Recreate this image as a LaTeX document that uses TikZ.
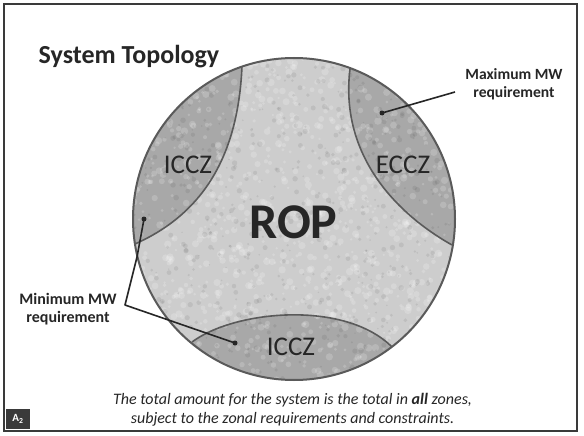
\documentclass[tikz,border=0pt]{standalone}
\usepackage{fontspec}
\setmainfont{Carlito}
\definecolor{ropgray}{HTML}{CDCDCD}
\definecolor{zonegray}{HTML}{A8A8A8}
\definecolor{edgegray}{HTML}{5A5A5A}
\definecolor{ink}{HTML}{262626}
\definecolor{framec}{HTML}{3A3A3A}
\tikzset{
  zone/.style={fill=zonegray},
  zoneedge/.style={draw=edgegray,line width=1.6pt},
  lbl/.style={text=ink,inner sep=0pt},
  dotn/.style={circle,fill=ink,inner sep=0pt,minimum size=5pt},
  lead/.style={draw=ink,line width=1.6pt},
}
\begin{document}
\begin{tikzpicture}[x=1pt,y=-1pt]
\useasboundingbox (0,0) rectangle (584,436);
\fill[white] (0,0) rectangle (584,436);
% frame
\draw[framec,line width=2pt] (4,4) rectangle (577,431);
% main circle
\coordinate (c) at (294,219);
\fill[ropgray] (c) circle[radius=161];
\begin{scope}
  \clip (c) circle[radius=161];
  % left ICCZ
  \fill[zone] (242,66) .. controls (238,160) and (200,215) .. (135,244)
     -- (110,250) -- (110,40) -- (244,40) -- cycle;
  % ECCZ
  \fill[zone] (350,69) .. controls (340,150) and (390,210) .. (452,245)
     -- (470,250) -- (470,40) -- (350,40) -- cycle;
  % bottom ICCZ
  \fill[zone] (192,342) .. controls (235,310) and (345,300) .. (392,347)
     -- (420,400) -- (170,400) -- cycle;
  % mottled texture
  \pgfmathsetseed{7}
  \foreach \i in {1,...,1100}{
    \pgfmathsetmacro{\px}{294+161*rand}
    \pgfmathsetmacro{\py}{219+161*rand}
    \pgfmathsetmacro{\pr}{1.2+2.6*rnd}
    \fill[white,opacity=0.18] (\px,\py) circle[radius=\pr];
  }
  \foreach \i in {1,...,700}{
    \pgfmathsetmacro{\px}{294+161*rand}
    \pgfmathsetmacro{\py}{219+161*rand}
    \pgfmathsetmacro{\pr}{0.8+2.0*rnd}
    \fill[black,opacity=0.07] (\px,\py) circle[radius=\pr];
  }
  \draw[zoneedge] (242,66) .. controls (238,160) and (200,215) .. (135,244);
  \draw[zoneedge] (350,69) .. controls (340,150) and (390,210) .. (452,245);
  \draw[zoneedge] (192,342) .. controls (235,310) and (345,300) .. (392,347);
\end{scope}
\draw[edgegray,line width=2pt] (c) circle[radius=161];
% texts
\node[lbl,font=\bfseries\fontsize{26}{30}\selectfont,anchor=base] (title) at (129,64) {System Topology};
\node[lbl,font=\bfseries\fontsize{50}{60}\selectfont,anchor=base] (rop) at (293.5,238) {ROP};
\node[lbl,font=\fontsize{27}{30}\selectfont,anchor=base] (icczl) at (188,173) {ICCZ};
\node[lbl,font=\fontsize{27}{30}\selectfont,anchor=base] (eccz) at (403,173) {ECCZ};
\node[lbl,font=\fontsize{27}{30}\selectfont,anchor=base] (icczb) at (291,355) {ICCZ};
\node[lbl,font=\bfseries\fontsize{15.6}{17.7}\selectfont,align=center,anchor=base] (maxl) at (514,97.7) {Maximum MW\\requirement};
\node[lbl,font=\bfseries\fontsize{16}{18}\selectfont,align=center,anchor=base] (minl) at (68,322) {Minimum MW\\requirement};
\node[lbl,font=\itshape\fontsize{16}{19.5}\selectfont,align=center,anchor=base] (cap) at (292.5,423.5)
  {The total amount for the system is the total in \textbf{all} zones,\\subject to the zonal requirements and constraints.};
% badge
\node[fill=framec,text=white,minimum width=24pt,minimum height=20pt,inner sep=0pt,
  font=\bfseries\fontsize{11}{12}\selectfont] (badge) at (18,419) {A\textsubscript{2}};
% leaders
\node[dotn] (maxdot) at (382,113) {};
\coordinate (maxend) at (455,92);
\draw[lead] (maxdot.center) -- (maxend);
\node[dotn] (mindot1) at (144,219) {};
\node[dotn] (mindot2) at (235,343) {};
\coordinate (mk1) at (137,257);
\coordinate (mk2) at (125,305);
\draw[lead,line join=round] (mindot1.center) -- (mk1) -- (mk2) -- (mindot2.center);
\end{tikzpicture}
\end{document}
